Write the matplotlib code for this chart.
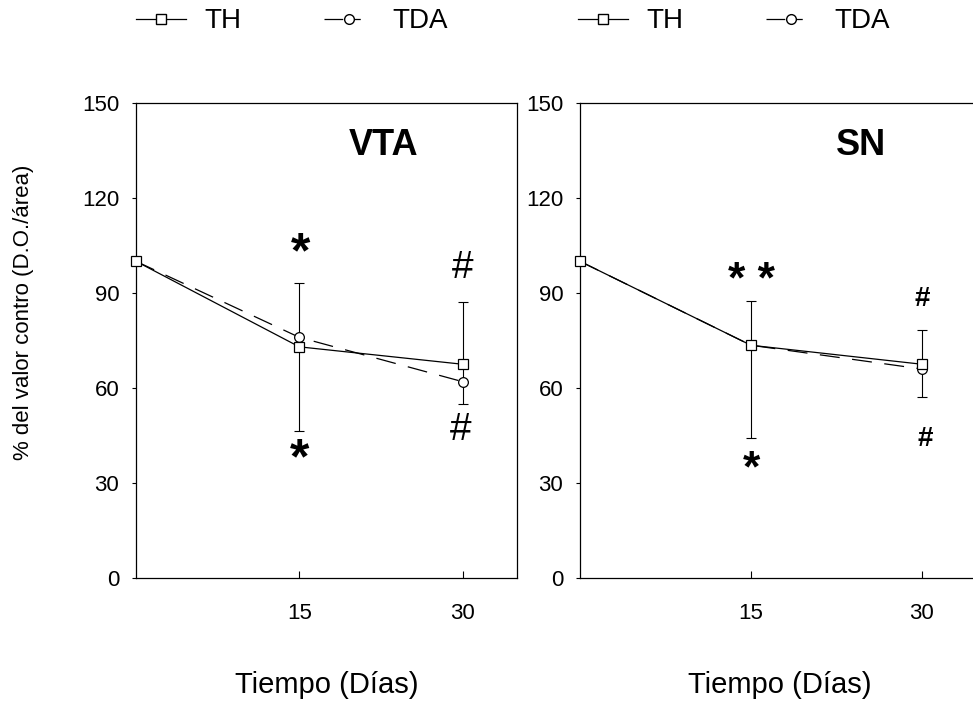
import matplotlib
matplotlib.use("Agg")
import matplotlib.pyplot as plt
from matplotlib.lines import Line2D

plt.rcParams['font.family'] = ['Liberation Sans', 'DejaVu Sans']

days = [0, 15, 30]
xticks = [15, 30]
yticks = [0, 30, 60, 90, 120, 150]

vta_th = [100, 73, 67.5]
vta_tda = [100, 76, 62]
vta_err_low = [None, 46.4, 55]
vta_err_high = [None, 93.2, 87]

sn_th = [100, 73.5, 67.5]
sn_tda = [100, 73.5, 66]
sn_err_low = [None, 44.2, 57.3]
sn_err_high = [None, 87.6, 78.3]

fig = plt.figure(figsize=(9.73, 7.03), dpi=100)
ax1 = fig.add_axes([0.1398, 0.1778, 0.3916, 0.6757])
ax2 = fig.add_axes([0.5961, 0.1778, 0.4100, 0.6757])

lw = 0.9
data_dashes = (16, 10)
for ax, th, tda, lo, hi in [(ax1, vta_th, vta_tda, vta_err_low, vta_err_high),
                            (ax2, sn_th, sn_tda, sn_err_low, sn_err_high)]:
    ax.plot(days, tda, color='black', lw=lw, dashes=data_dashes, marker='o', ms=7,
            mfc='white', mec='black', mew=0.9, zorder=3, clip_on=False)
    ax.plot(days, th, color='black', lw=lw, marker='s', ms=7,
            mfc='white', mec='black', mew=0.9, zorder=4, clip_on=False)
    ex = days[1:]
    ymid = th[1:]
    yl = [t - l for t, l in zip(th[1:], lo[1:])]
    yh = [h - t for t, h in zip(th[1:], hi[1:])]
    ax.errorbar(ex, ymid, yerr=[yl, yh], fmt='none', ecolor='black',
                elinewidth=0.8, capsize=3.5, capthick=0.8, zorder=2)
    ax.set_xlim(0, 35)
    ax.set_ylim(0, 150)
    ax.set_xticks(xticks)
    ax.set_xticklabels([str(t) for t in xticks])
    ax.set_yticks(yticks)
    ax.tick_params(axis='x', direction='in', length=5, width=0.8, pad=18, labelsize=16)
    ax.tick_params(axis='y', direction='out', length=3, width=0.8, pad=9, labelsize=16)
    for s in ax.spines.values():
        s.set_linewidth(0.9)
    ax.set_xlabel('Tiempo (Días)', fontsize=21, labelpad=34)

ax1.set_ylabel('% del valor contro (D.O./área)', fontsize=16)
ax1.yaxis.set_label_coords(-0.268, 0.56)

# panel titles
ax1.text(0.65, 0.91, 'VTA', transform=ax1.transAxes, ha='center', va='center',
         fontsize=26, fontweight='bold')
ax2.text(0.705, 0.91, 'SN', transform=ax2.transAxes, ha='center', va='center',
         fontsize=26, fontweight='bold')

# significance marks VTA
ax1.text(15.1, 102.2, '*', ha='center', va='center', fontsize=36, fontweight='bold')
ax1.text(15.0, 37.2, '*', ha='center', va='center', fontsize=36, fontweight='bold')
ax1.text(30, 98.0, '#', ha='center', va='center', fontsize=28)
ax1.text(29.8, 46.8, '#', ha='center', va='center', fontsize=28)

# significance marks SN
ax2.text(15, 93.5, '* *', ha='center', va='center', fontsize=32, fontweight='bold')
ax2.text(15, 34.2, '*', ha='center', va='center', fontsize=32, fontweight='bold')
ax2.text(30, 88, '#', ha='center', va='center', fontsize=20, fontweight='bold')
ax2.text(30.3, 44, '#', ha='center', va='center', fontsize=20, fontweight='bold')

# legends
th_handle = Line2D([], [], color='black', lw=lw, marker='s', ms=7, mfc='white', mec='black')
tda_handle = Line2D([], [], color='black', lw=lw, marker='o', ms=7, mfc='white', mec='black',
                    dashes=(15, 9, 5, 30))
for ax, x0 in [(ax1, 0.0), (ax2, -0.005)]:
    ax.legend([th_handle, tda_handle], ['TH', 'TDA'], ncol=2, frameon=False,
              loc='center left', bbox_to_anchor=(x0, 1.172), fontsize=20,
              borderaxespad=0, borderpad=0,
              handlelength=1.8, handletextpad=0.65, columnspacing=3.0, markerscale=1)

fig.savefig('out.png', dpi=100)
